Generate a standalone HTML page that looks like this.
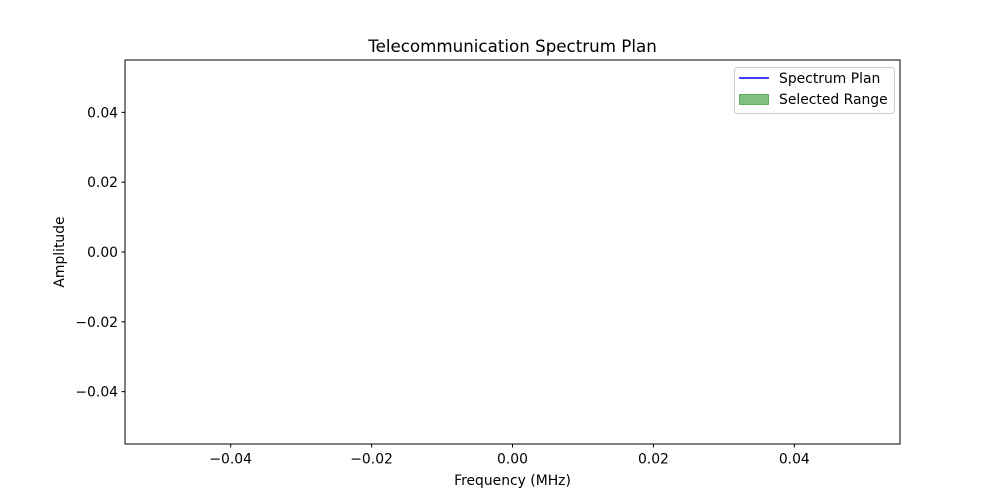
<!DOCTYPE html>
<html><head><meta charset="utf-8">
<style>
html,body{margin:0;padding:0;background:#fff;}
svg{display:block;font-family:"DejaVu Sans","Liberation Sans",sans-serif;}
</style></head>
<body>
<svg id="chart" width="1000" height="500" viewBox="0 0 1000 500">
  <rect width="1000" height="500" fill="#fff"/>
  <text x="512.5" y="52" text-anchor="middle" font-size="16.7" fill="#000">Telecommunication Spectrum Plan</text>
  <g id="ticks"></g>
  <g id="series"></g>
  <rect x="125" y="60" width="775" height="384" fill="none" stroke="#000" stroke-width="1"/>
  <text x="512.5" y="485" text-anchor="middle" font-size="13.9">Frequency (MHz)</text>
  <text x="64" y="252" text-anchor="middle" font-size="13.9" transform="rotate(-90 64 252)">Amplitude</text>
  <g>
    <rect x="734.5" y="67.5" width="160" height="46" rx="3" fill="#fff" fill-opacity="0.8" stroke="#ccc"/>
    <line x1="739" y1="78" x2="769" y2="78" stroke="#0000ff" stroke-width="1.5"/>
    <text x="779" y="83" font-size="13.9">Spectrum Plan</text>
    <rect x="739.5" y="94.5" width="29" height="10" fill="#008000" fill-opacity="0.5" stroke="#008000" stroke-opacity="0.5"/>
    <text x="779" y="104" font-size="13.9">Selected Range</text>
  </g>
</svg>
<script>
const xTicks = [-0.04, -0.02, 0.00, 0.02, 0.04];
const yTicks = [0.04, 0.02, 0.00, -0.02, -0.04];
const xTickLabels = ["\u22120.04", "\u22120.02", "0.00", "0.02", "0.04"];
const yTickLabels = ["0.04", "0.02", "0.00", "\u22120.02", "\u22120.04"];
const frequencies = [];
const amplitudes = [];
const selectedRange = [];

const X0 = 125, X1 = 900, Y0 = 60, Y1 = 444;
const xMin = -0.055, xMax = 0.055, yMin = -0.055, yMax = 0.055;
function xs(v){ return X0 + (v - xMin) / (xMax - xMin) * (X1 - X0); }
function ys(v){ return Y1 - (v - yMin) / (yMax - yMin) * (Y1 - Y0); }
const NS = "http://www.w3.org/2000/svg";
const tg = document.getElementById("ticks");
xTicks.forEach((t, i) => {
  const x = xs(t);
  const l = document.createElementNS(NS, "line");
  l.setAttribute("x1", x); l.setAttribute("x2", x);
  l.setAttribute("y1", Y1); l.setAttribute("y2", Y1 + 3.5);
  l.setAttribute("stroke", "#000");
  
  
  tg.appendChild(l);
  const tx = document.createElementNS(NS, "text");
  tx.setAttribute("x", x); tx.setAttribute("y", Y1 + 19.5);
  tx.setAttribute("text-anchor", "middle"); tx.setAttribute("font-size", "13.9");
  tx.textContent = xTickLabels[i];
  
  
  tg.appendChild(tx);
});
yTicks.forEach((t, i) => {
  const y = ys(t);
  const l = document.createElementNS(NS, "line");
  l.setAttribute("x1", X0 - 3.5); l.setAttribute("x2", X0);
  l.setAttribute("y1", y); l.setAttribute("y2", y);
  l.setAttribute("stroke", "#000");
  
  
  tg.appendChild(l);
  const tx = document.createElementNS(NS, "text");
  tx.setAttribute("x", X0 - 7); tx.setAttribute("y", y + 5);
  tx.setAttribute("text-anchor", "end"); tx.setAttribute("font-size", "13.9");
  tx.textContent = yTickLabels[i];
  
  
  tg.appendChild(tx);
});
const sg = document.getElementById("series");
if (selectedRange.length === 2) {
  const r = document.createElementNS(NS, "rect");
  r.setAttribute("x", xs(selectedRange[0])); r.setAttribute("y", Y0);
  r.setAttribute("width", xs(selectedRange[1]) - xs(selectedRange[0])); r.setAttribute("height", Y1 - Y0);
  r.setAttribute("fill", "#008000"); r.setAttribute("fill-opacity", "0.5");
  
  
  sg.appendChild(r);
}
if (frequencies.length) {
  const p = document.createElementNS(NS, "polyline");
  p.setAttribute("points", frequencies.map((f, i) => xs(f) + "," + ys(amplitudes[i])).join(" "));
  p.setAttribute("fill", "none"); p.setAttribute("stroke", "#0000ff"); p.setAttribute("stroke-width", "1.5");
  
  
  sg.appendChild(p);
}
</script>
</body></html>
